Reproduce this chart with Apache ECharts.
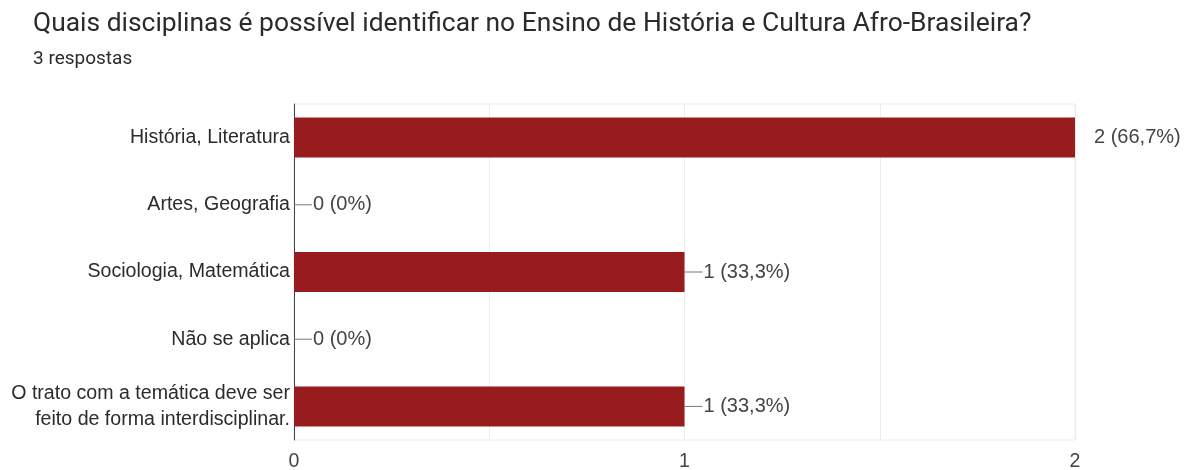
<!DOCTYPE html>
<html>
<head>
<meta charset="utf-8">
<script src="https://cdn.jsdelivr.net/npm/echarts@6/dist/echarts.min.js"></script>
<style>
  html, body { margin: 0; padding: 0; background: #fff; }
  #chart { width: 1192px; height: 470px; }
</style>
</head>
<body>
<div id="chart"></div>
<script>
// Survey question and answer counts
const questionTitle = 'Quais disciplinas é possível identificar no Ensino de História e Cultura Afro-Brasileira?';
const totalResponses = 3;
const categories = [
  'História, Literatura',
  'Artes, Geografia',
  'Sociologia, Matemática',
  'Não se aplica',
  'O trato com a temática deve ser\nfeito de forma interdisciplinar.'
];
const counts = [2, 0, 1, 0, 1];
const xTicks = [0, 1, 2];

function pctText(v) {
  if (v === 0) return '0%';
  return (v / totalResponses * 100).toFixed(1).replace('.', ',') + '%';
}

const maxCount = Math.max.apply(null, counts);
const chart = echarts.init(document.getElementById('chart'), null, { renderer: 'canvas' });

chart.setOption({
  backgroundColor: '#ffffff',
  animation: false,
  title: {
    text: questionTitle,
    subtext: totalResponses + ' respostas',
    left: 28,
    top: 6,
    itemGap: 13,
    textStyle: { fontFamily: 'Roboto', fontSize: 26.4, fontWeight: 'normal', color: '#2b2b2b' },
    subtextStyle: { fontFamily: 'Roboto', fontSize: 19, color: '#2b2b2b' }
  },
  grid: {
    left: 294, right: 117, top: 104, bottom: 30,
    containLabel: false, outerBoundsMode: 'none',
    show: true, borderColor: '#ececec', borderWidth: 1
  },
  xAxis: {
    type: 'value',
    min: xTicks[0],
    max: xTicks[xTicks.length - 1],
    interval: 0.5,
    axisLine: { show: false },
    axisTick: { show: false },
    splitLine: { show: true, lineStyle: { color: '#ececec', width: 1 } },
    axisLabel: {
      margin: 12,
      fontFamily: 'Liberation Sans',
      fontSize: 19.5,
      color: '#444',
      formatter: v => (xTicks.indexOf(v) >= 0 ? String(v) : '')
    }
  },
  yAxis: {
    type: 'category',
    inverse: true,
    data: categories,
    axisLine: { show: true, lineStyle: { color: '#444', width: 1 } },
    axisTick: { show: false },
    splitLine: { show: false },
    axisLabel: {
      margin: 4,
      fontFamily: 'Liberation Sans',
      fontSize: 19.6,
      lineHeight: 26,
      color: '#2b2b2b'
    }
  },
  series: [{
    type: 'bar',
    data: counts,
    barWidth: 40,
    itemStyle: { color: '#981b1e' },
    label: {
      show: true,
      position: 'right',
      distance: 0,
      formatter: p => (p.value === maxCount ? '{gap|}' : '{line|}') + '{t|' + p.value + ' (' + pctText(p.value) + ')}',
      rich: {
        line: { width: 18, height: 1, backgroundColor: '#777' },
        gap: { width: 18, height: 1 },
        t: { fontFamily: 'Liberation Sans', fontSize: 20, color: '#444', padding: [0, 0, 0, 1] }
      }
    }
  }]
});
</script>
</body>
</html>
